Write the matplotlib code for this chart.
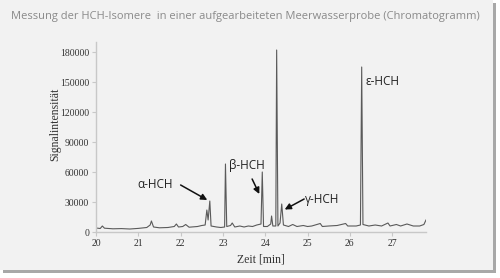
#!/usr/bin/env python3
import matplotlib
matplotlib.use("Agg")
import matplotlib.pyplot as plt
from matplotlib.patches import Rectangle

# --- data (time in min, signal) ---
zeit = [20.00, 20.10, 20.15, 20.20, 20.40, 20.60, 20.80, 21.00, 21.20, 21.28,
        21.31, 21.36, 21.50, 21.70, 21.85, 21.90, 21.95, 22.05, 22.12, 22.20,
        22.40, 22.50, 22.58, 22.62, 22.65, 22.69, 22.72, 22.85, 22.95, 23.04,
        23.06, 23.09, 23.18, 23.22, 23.28, 23.40, 23.50, 23.60, 23.70, 23.80,
        23.90, 23.93, 23.96, 24.05, 24.13, 24.15, 24.18, 24.25, 24.27, 24.30,
        24.35, 24.39, 24.43, 24.55, 24.65, 24.75, 24.90, 25.00, 25.10, 25.30,
        25.35, 25.50, 25.70, 25.90, 25.95, 26.15, 26.25, 26.28, 26.31, 26.45,
        26.60, 26.75, 26.90, 26.95, 27.10, 27.20, 27.35, 27.50, 27.65, 27.75,
        27.80]
signal = [4000, 3500, 6000, 3800, 3200, 3400, 3000, 3600, 4500, 7000,
          11000, 5000, 4200, 4500, 5500, 8000, 5000, 5500, 7500, 4800,
          5500, 6500, 7000, 22000, 12000, 31000, 6000, 5000, 4500, 5000,
          68000, 5500, 6500, 9000, 5000, 6000, 5000, 6000, 5500, 7000,
          8000, 60000, 5500, 5500, 8000, 16000, 6000, 6000, 182000, 6000,
          9000, 28000, 7000, 5500, 7500, 5500, 6500, 5500, 6000, 8500,
          5500, 6000, 6500, 8500, 6000, 6000, 7000, 165000, 7500, 6000,
          7000, 6000, 9000, 6000, 7500, 6000, 8000, 6000, 6000, 7500,
          12000]

x_ticks = [20, 21, 22, 23, 24, 25, 26, 27]
y_ticks = [0, 30000, 60000, 90000, 120000, 150000, 180000]

# labels: (text, text position, arrow tail, arrow tip)
labels = [
    ("α-HCH", (20.97, 47000), (22.0, 47000), (22.63, 32000)),
    ("β-HCH", (23.14, 66000), (23.69, 53000), (23.86, 38000)),
    ("γ-HCH", (24.94, 33000), (24.92, 33000), (24.46, 22500)),
    ("ε-HCH", (26.38, 151000), None, None),
]

bg = "#f2f2f2"
fig = plt.figure(figsize=(5.0, 2.78), dpi=100)
fig.patch.set_facecolor("white")
# shadowed panel behind everything
fig.patches.append(Rectangle((3 / 500, 5 / 278), 493 / 500, 270 / 278,
                             transform=fig.transFigure, facecolor="#a8a8a8",
                             edgecolor="none", zorder=-10))
fig.patches.append(Rectangle((0, 8 / 278), 493 / 500, 270 / 278,
                             transform=fig.transFigure, facecolor=bg,
                             edgecolor="none", zorder=-9))

fig.text(11 / 500, 1 - 16 / 278,
         "Messung der HCH-Isomere  in einer aufgearbeiteten Meerwasserprobe (Chromatogramm)",
         family="Open Sans", fontsize=8, color="#8a8a8a", va="center", ha="left")

ax = fig.add_axes([96 / 500, 46 / 278, 330 / 500, 190 / 278])
ax.set_facecolor("none")
ax.plot(zeit, signal, color="#5a5a5a", lw=0.8)

ax.set_xlim(20, 27.8)
ax.set_ylim(0, 190000)
ax.set_xticks(x_ticks)
ax.set_yticks(y_ticks)
for side in ["top", "right"]:
    ax.spines[side].set_visible(False)
for side in ["left", "bottom"]:
    ax.spines[side].set_color("#c8c8c8")
    ax.spines[side].set_linewidth(1.0)
ax.tick_params(axis="both", length=3, width=0.8, color="#c8c8c8",
               labelsize=7, labelcolor="#333333", pad=2)
for lab in ax.get_xticklabels() + ax.get_yticklabels():
    lab.set_family("Liberation Serif")

ax.set_xlabel("Zeit [min]", family="Liberation Serif", fontsize=8.5,
              color="#333333", labelpad=4)
fig.text(55 / 500, 1 - 124 / 278, "Signalintensität", rotation=90,
         family="Liberation Serif", fontsize=8.5, color="#333333",
         ha="center", va="center")

for txt, pos, tail, tip in labels:
    ax.text(pos[0], pos[1], txt, family="Open Sans", fontsize=8.5,
            color="#222222", ha="left", va="center")
    if tip is not None:
        ax.annotate("", xy=tip, xytext=tail,
                    arrowprops=dict(arrowstyle="-|>", color="#111111",
                                    lw=1.1, mutation_scale=9,
                                    shrinkA=0, shrinkB=0))

plt.savefig("out.png", dpi=100, facecolor=fig.get_facecolor())
